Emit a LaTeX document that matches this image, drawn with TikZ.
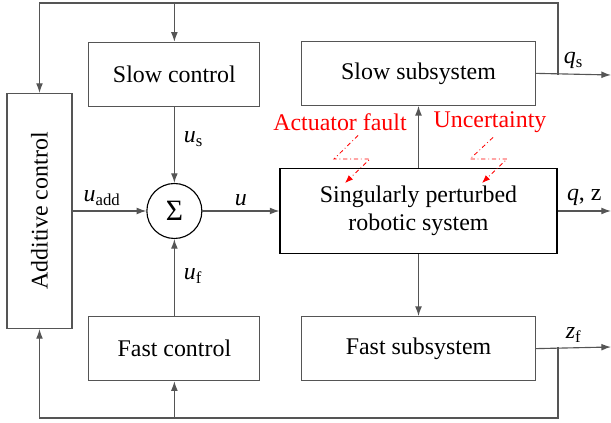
\documentclass[tikz,border=0pt]{standalone}
\usepackage{fontspec}
\setmainfont{Liberation Serif}
\usetikzlibrary{arrows.meta, positioning, calc}
\definecolor{linegray}{HTML}{555555}
\definecolor{faultred}{HTML}{FF0000}
\newcommand{\sig}[2]{\textit{#1}\textsubscript{#2}}

\begin{document}
\begin{tikzpicture}[
    >={Latex[length=2.4mm, width=1.7mm]},
    font=\fontsize{17}{19.5}\selectfont,
    block/.style={draw=linegray, line width=0.8pt, minimum width=#1, minimum height=1.6cm, align=center, inner sep=2pt},
    block/.default=4.275cm,
    arrow/.style={->, line width=0.8pt, draw=linegray},
    fault/.style={->, line width=0.6pt, color=faultred, dash dot, >={Latex[length=2mm, width=1.5mm]}},
    faultlabel/.style={text=faultred},
]
\useasboundingbox (0,0) rectangle (15.275,10.575);

% Blocks
\node[draw, line width=0.8pt, minimum width=6.925cm, minimum height=2.125cm, align=center] (plant) at (10.4625,5.3) {Singularly perturbed\\robotic system};
\node[draw, circle, line width=0.8pt, minimum size=1.375cm, inner sep=0pt, left=1.925cm of plant] (sum) {\fontsize{21}{21}\selectfont Σ};
\node[block, above=1.9cm of sum] (slowc) {Slow control};
\node[block, below=1.925cm of sum] (fastc) {Fast control};
\node[block=5.85cm, above=1.55cm of plant] (slows) {Slow subsystem};
\node[block=5.85cm, below=1.55cm of plant] (fasts) {Fast subsystem};
\node[block=5.875cm, minimum height=1.625cm, rotate=90] (addc) at (0.9875,5.3) {Additive control};

% Coordinates for outputs and feedback
\coordinate (qsbr) at (13.95,8.7);
\coordinate (qsend) at (15.275,8.7);
\coordinate (qend) at (15.275,5.3);
\coordinate (zfbr) at (13.95,1.9);
\coordinate (zfend) at (15.275,1.9);
\coordinate (topy) at (0,10.5);
\coordinate (boty) at (0,0.125);

% Arrows
\draw[arrow] (slowc) -- node[right=3pt, pos=0.42] {\sig{u}{s}} (sum);
\draw[arrow] (fastc) -- node[right=3pt, pos=0.52] {\sig{u}{f}} (sum);
\draw[arrow] (addc.south) -- node[above, pos=0.4] {\sig{u}{add}} (sum);
\draw[arrow] (sum) -- node[above] {\textit{u}} (plant);
\draw[arrow] (plant) -- (slows);
\draw[arrow] (plant) -- (fasts);

% Outputs
\draw[arrow] (slows.east) -- node[above, pos=0.5] {\sig{q}{s}} (qsend);
\draw[arrow] (plant.east) -- node[above, pos=0.5] {\textit{q}, z} (qend);
\draw[arrow] (fasts.east) -- node[above, pos=0.5] {\sig{z}{f}} (zfend);

% Feedback loops
\draw[arrow] (qsbr) -- (qsbr |- topy) -| (addc.east);
\draw[arrow] (slowc.north |- topy) -- (slowc.north);
\draw[arrow] (zfbr) -- (zfbr |- boty) -| (addc.west);
\draw[arrow] (fastc.south |- boty) -- (fastc.south);

% Faults
\node[faultlabel] (actf) at (8.5,7.525) {Actuator fault};
\node[faultlabel] (unc) at (12.25,7.525) {Uncertainty};
\coordinate (actfa) at (8.35,6.6);
\coordinate (actfb) at (9.25,6.6);
\coordinate (actfend) at (8.625,6.0);
\coordinate (unca) at (11.75,6.6);
\coordinate (uncb) at (12.675,6.6);
\coordinate (uncend) at (12.05,6.0);
\draw[fault] ([xshift=0.45cm]actf.south) -- (actfa) -- (actfb) -- (actfend);
\draw[fault] ([xshift=0.075cm]unc.south) -- (unca) -- (uncb) -- (uncend);

\end{tikzpicture}
\end{document}
